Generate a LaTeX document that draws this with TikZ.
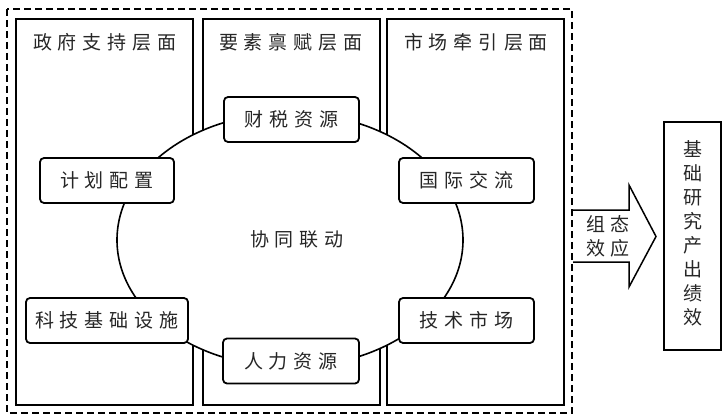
\documentclass[tikz,border=0pt]{standalone}
\usepackage{fontspec}
\newfontfamily\cjk{Noto Sans CJK SC}
\def\spc#1{\spcA#1\relax\unkern}
\def\spcA#1{\ifx#1\relax\else#1\kern6pt\expandafter\spcA\fi}
\tikzset{
  col/.style={draw, line width=2pt, minimum width=177pt, minimum height=386pt, inner sep=0pt},
  lbl/.style={font=\cjk\fontsize{19}{24}\selectfont, inner sep=0pt, text=black!85},
  rbox/.style={draw, line width=1.8pt, rounded corners=4pt, fill=white, minimum height=45pt,
    inner sep=0pt, font=\cjk\fontsize{19}{24}\selectfont, text=black!85},
}
\begin{document}
\begin{tikzpicture}[x=1pt, y=-1pt]
\useasboundingbox (0,0) rectangle (726,417);
% outer dashed frame
\draw[line width=1.5pt, dash pattern=on 7pt off 4pt] (7,9) rectangle (572,413);
% columns
\node[col] (c1) at (104.5,212) {};
\node[col] (c2) at (291,212) {};
\node[col] (c3) at (475.5,212) {};
\node[lbl] (h1) at (105,42) {\spc{政府支持层面}};
\node[lbl] (h2) at (291,42) {\spc{要素禀赋层面}};
\node[lbl] (h3) at (476,42) {\spc{市场牵引层面}};
% ring
\draw[line width=1.6pt, fill=white] (290,240) ellipse [x radius=173pt, y radius=127pt];
\node[lbl] (core) at (297,239) {\spc{协同联动}};
% boxes
\node[rbox, minimum width=135pt] (b1) at (291.5,119.5) {\spc{财税资源}};
\node[rbox, minimum width=134pt] (b2) at (107,180.5) {\spc{计划配置}};
\node[rbox, minimum width=135pt] (b3) at (466.5,180.5) {\spc{国际交流}};
\node[rbox, minimum width=162pt] (b4) at (107,320.5) {\spc{科技基础设施}};
\node[rbox, minimum width=135pt] (b5) at (466.5,320.5) {\spc{技术市场}};
\node[rbox, minimum width=136pt] (b6) at (291,361) {\spc{人力资源}};
% big arrow
\draw[line width=1.5pt, fill=white, line join=miter] (573,210) -- (629,210) -- (629,185) -- (656,236.5) -- (629,287) -- (629,262) -- (573,262);
\node[lbl, align=center] (eff) at (608,236) {\spc{组态}\\\spc{效应}};
% result box
\node[draw, line width=1.5pt, minimum width=57pt, minimum height=228pt, inner sep=0pt] (out) at (692.5,236) {};
\node[lbl, align=center] (outt) at (693,233) {基\\础\\研\\究\\产\\出\\绩\\效};
\end{tikzpicture}
\end{document}
